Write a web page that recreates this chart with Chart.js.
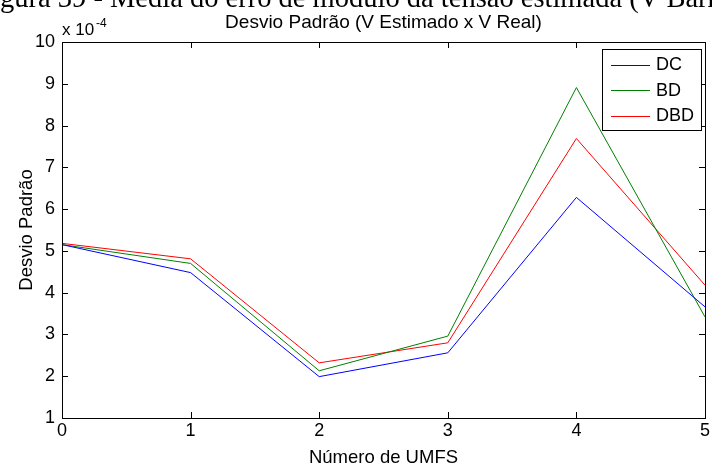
<!DOCTYPE html>
<html>
<head>
<meta charset="utf-8">
<script src="https://cdn.jsdelivr.net/npm/chart.js@4/dist/chart.umd.min.js"></script>
<style>
  html, body { margin: 0; padding: 0; background: #fff; }
  #wrap { width: 712px; height: 467px; position: relative; }
</style>
</head>
<body>
<div id="wrap"><canvas id="chart"></canvas></div>
<script>
// values are in units of 1e-4
const umfs = [0, 1, 2, 3, 4, 5];
const dcValues = [5.15, 4.48, 1.99, 2.56, 6.28, 3.66];
const bdValues = [5.15, 4.70, 2.13, 2.96, 8.91, 3.42];
const dbdValues = [5.18, 4.81, 2.32, 2.80, 7.69, 4.18];
const xTicks = [0, 1, 2, 3, 4, 5];
const yTicks = [1, 2, 3, 4, 5, 6, 7, 8, 9, 10];
const seriesNames = ['DC', 'BD', 'DBD'];

const FONT = "'Liberation Sans', Arial, sans-serif";

function toPoints(values) {
    return umfs.map((x, i) => ({ x: x, y: values[i] }));
}

// box, inward ticks, legend and the extra texts, MATLAB style
const matlabFrame = {
    id: 'matlabFrame',
    afterDraw(chart) {
        const ctx = chart.ctx;
        const a = chart.chartArea;
        const xs = chart.scales.x;
        const ys = chart.scales.y;
        ctx.save();
        ctx.strokeStyle = '#000';
        ctx.lineWidth = 1;
        ctx.strokeRect(Math.round(a.left) + 0.5, Math.round(a.top) + 0.5,
            Math.round(a.right - a.left), Math.round(a.bottom - a.top));
        const tl = 6;
        ctx.beginPath();
        xTicks.forEach(v => {
            const px = Math.round(xs.getPixelForValue(v)) + 0.5;
            ctx.moveTo(px, a.bottom); ctx.lineTo(px, a.bottom - tl);
            ctx.moveTo(px, a.top); ctx.lineTo(px, a.top + tl);
        });
        yTicks.forEach(v => {
            const py = Math.round(ys.getPixelForValue(v)) + 0.5;
            ctx.moveTo(a.left, py); ctx.lineTo(a.left + tl, py);
            ctx.moveTo(a.right, py); ctx.lineTo(a.right - tl, py);
        });
        ctx.stroke();

        // legend
        const lx = 602, ly = 49, lw = 99, lh = 81;
        ctx.fillStyle = '#fff';
        ctx.fillRect(lx, ly, lw, lh);
        ctx.strokeRect(lx + 0.5, ly + 0.5, lw, lh);
        ctx.font = '18px ' + FONT;
        ctx.textBaseline = 'middle';
        ctx.textAlign = 'left';
        chart.data.datasets.forEach((ds, i) => {
            const yy = 64.5 + i * 25.5;
            ctx.strokeStyle = ds.borderColor;
            ctx.beginPath();
            ctx.moveTo(611, Math.round(yy) + 0.5);
            ctx.lineTo(650, Math.round(yy) + 0.5);
            ctx.stroke();
            ctx.fillStyle = '#000';
            ctx.fillText(ds.label, 656, yy + 1);
        });

        // exponent label
        ctx.fillStyle = '#000';
        ctx.textBaseline = 'alphabetic';
        ctx.font = '17px ' + FONT;
        ctx.fillText('x 10', 62, 35);
        ctx.font = '12px ' + FONT;
        ctx.fillText('-4', 96, 27);

        // title
        ctx.font = '19px ' + FONT;
        ctx.textAlign = 'center';
        ctx.fillText('Desvio Padrão (V Estimado x V Real)', (a.left + a.right) / 2, 28);

        // caption of the page, cut at the top
        ctx.font = '28.5px "Liberation Serif", "Times New Roman", serif';
        ctx.textAlign = 'left';
        const skip = ctx.measureText('Fi').width;
        ctx.fillText('Figura 39 - Média do erro de módulo da tensão estimada (V Barra)', -skip, 7);
        ctx.restore();
    }
};

const ctx = document.getElementById('chart').getContext('2d');
new Chart(ctx, {
    type: 'line',
    data: {
        datasets: [
            { label: seriesNames[0], data: toPoints(dcValues), borderColor: '#0000ff' },
            { label: seriesNames[1], data: toPoints(bdValues), borderColor: '#008000' },
            { label: seriesNames[2], data: toPoints(dbdValues), borderColor: '#ff0000' }
        ]
    },
    options: {
        responsive: true,
        maintainAspectRatio: false,
        animation: false,
        layout: { padding: { top: 42, right: 6, left: 0, bottom: 0 } },
        elements: {
            line: { borderWidth: 1, tension: 0 },
            point: { radius: 0, hoverRadius: 0 }
        },
        plugins: {
            legend: { display: false },
            tooltip: { enabled: false }
        },
        scales: {
            x: {
                type: 'linear',
                min: 0,
                max: 5,
                border: { display: false },
                grid: { display: false, drawTicks: false },
                ticks: {
                    stepSize: 1,
                    padding: 2,
                    color: '#000',
                    font: { family: FONT, size: 18 },
                    maxRotation: 0
                },
                afterBuildTicks(scale) { scale.ticks = xTicks.map(v => ({ value: v })); },
                title: {
                    display: true,
                    text: 'Número de UMFS',
                    color: '#000',
                    font: { family: FONT, size: 18.5, lineHeight: 1 },
                    padding: { top: 0, bottom: 0 }
                },
                afterFit(scale) { scale.height = 49; }
            },
            y: {
                min: 1,
                max: 10,
                border: { display: false },
                grid: { display: false, drawTicks: false },
                ticks: {
                    stepSize: 1,
                    padding: 7,
                    color: '#000',
                    font: { family: FONT, size: 18 }
                },
                afterBuildTicks(scale) { scale.ticks = yTicks.map(v => ({ value: v })); },
                title: {
                    display: true,
                    text: 'Desvio Padrão',
                    color: '#000',
                    font: { family: FONT, size: 18.5 },
                    padding: { top: 16, bottom: 0 }
                },
                afterFit(scale) { scale.width = 62; }
            }
        }
    },
    plugins: [matlabFrame]
});
</script>
</body>
</html>
